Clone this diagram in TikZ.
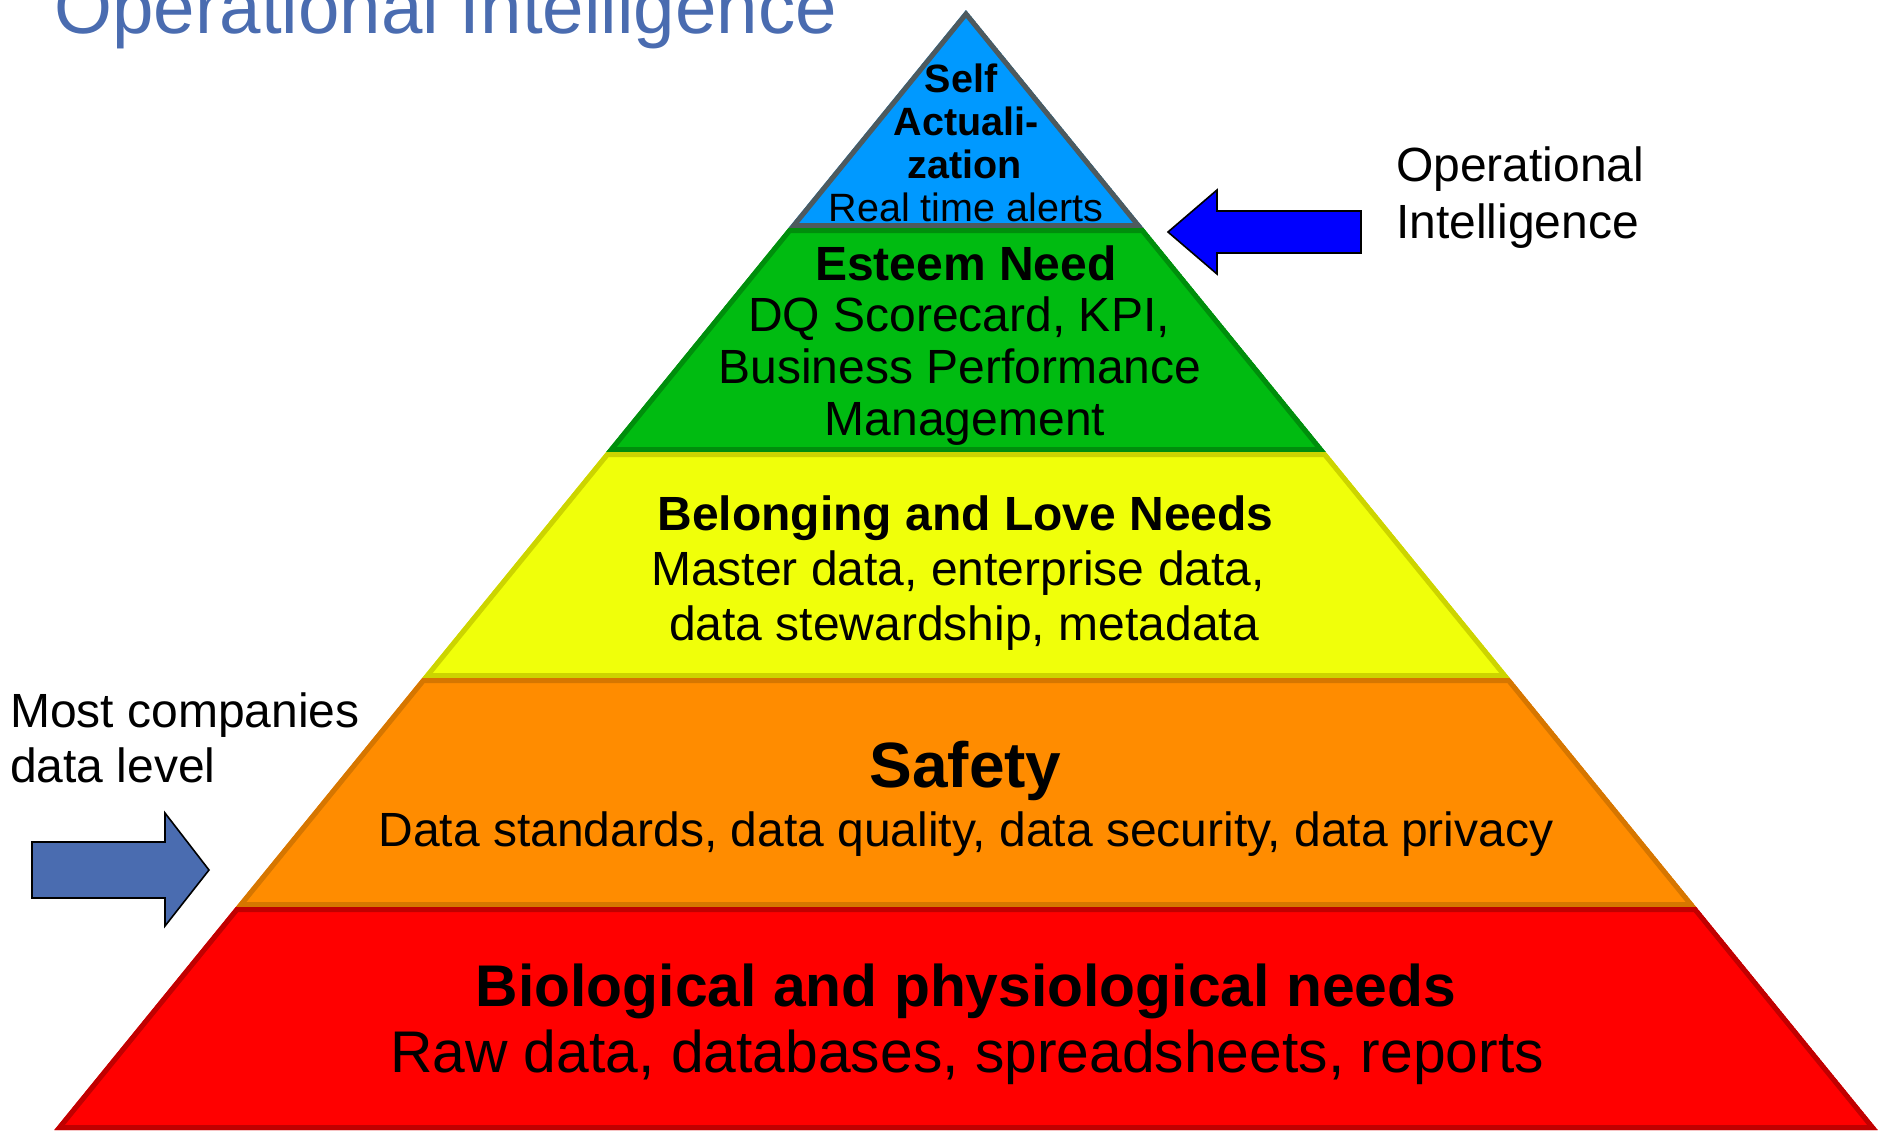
\documentclass[tikz,border=0pt]{standalone}
\usepackage{fontspec}
\setmainfont{Liberation Sans}
\definecolor{titleC}{RGB}{74,108,176}
\definecolor{blueF}{RGB}{0,153,255}
\definecolor{blueD}{RGB}{78,90,94}
\definecolor{greenF}{RGB}{0,187,17}
\definecolor{greenD}{RGB}{0,142,12}
\definecolor{yellowF}{RGB}{240,255,10}
\definecolor{yellowD}{RGB}{204,212,0}
\definecolor{orangeF}{RGB}{255,140,0}
\definecolor{orangeD}{RGB}{214,118,0}
\definecolor{redF}{RGB}{255,0,0}
\definecolor{redD}{RGB}{192,0,0}
\definecolor{arrowL}{RGB}{74,108,176}
\definecolor{arrowR}{RGB}{0,0,255}
\tikzset{
  bandline/.style={line width=10pt, line join=miter},
  txt/.style={anchor=base, inner sep=0pt, text=black},
  fBlue/.style={font=\fontsize{39.5}{43}\selectfont},
  fMid/.style={font=\fontsize{48}{55}\selectfont},
  fBig/.style={font=\fontsize{58.8}{66}\selectfont},
  fSafety/.style={font=\fontsize{64}{70}\selectfont\bfseries},
  arrowshape/.style={draw=black, line width=1.6pt, line join=miter},
}
\begin{document}
\begin{tikzpicture}[x=1pt,y=-1pt]
\useasboundingbox (0,0) rectangle (1879,1130);

% pyramid corners
\coordinate (A) at (966,10);
\coordinate (L1) at (788.5,228);  \coordinate (R1) at (1143.5,228);
\coordinate (L2) at (606.2,452);  \coordinate (R2) at (1325.8,452);
\coordinate (L3) at (422.2,678);  \coordinate (R3) at (1509.8,678);
\coordinate (L4) at (235.8,907);  \coordinate (R4) at (1696.2,907);
\coordinate (L5) at (54.3,1130);  \coordinate (R5) at (1877.7,1130);

\begin{scope}
  \clip (A) -- (R1) -- (L1) -- cycle;
  \draw[bandline, fill=blueF, draw=blueD] (A) -- (R1) -- (L1) -- cycle;
\end{scope}
\begin{scope}
  \clip (L1) -- (R1) -- (R2) -- (L2) -- cycle;
  \draw[bandline, fill=greenF, draw=greenD] (L1) -- (R1) -- (R2) -- (L2) -- cycle;
\end{scope}
\begin{scope}
  \clip (L2) -- (R2) -- (R3) -- (L3) -- cycle;
  \draw[bandline, fill=yellowF, draw=yellowD] (L2) -- (R2) -- (R3) -- (L3) -- cycle;
\end{scope}
\begin{scope}
  \clip (L3) -- (R3) -- (R4) -- (L4) -- cycle;
  \draw[bandline, fill=orangeF, draw=orangeD] (L3) -- (R3) -- (R4) -- (L4) -- cycle;
\end{scope}
\begin{scope}
  \clip (L4) -- (R4) -- (R5) -- (L5) -- cycle;
  \draw[bandline, fill=redF, draw=redD] (L4) -- (R4) -- (R5) -- (L5) -- cycle;
\end{scope}

% title (cut off at top, as in the original)
\node[anchor=base west, inner sep=0pt, text=titleC, font=\fontsize{74.5}{80}\selectfont] (title) at (54,33) {Operational Intelligence};

% blue band
\node[txt, fBlue] (s1) at (961,92) {\bfseries Self};
\node[txt, fBlue] (s2) at (966,135) {\bfseries Actuali-};
\node[txt, fBlue] (s3) at (965,178) {\bfseries zation};
\node[txt, fBlue] (s4) at (966,221.5) {Real time alerts};

% green band
\node[txt, fMid] (e1) at (966,280) {\bfseries Esteem Need};
\node[txt, fMid] (e2) at (959,331) {DQ Scorecard, KPI,};
\node[txt, fMid] (e3) at (960,383) {Business Performance};
\node[txt, fMid] (e4) at (965,435) {Management};

% yellow band
\node[txt, fMid] (y1) at (965.5,530) {\bfseries Belonging and Love Needs};
\node[txt, fMid] (y2) at (958,585) {Master data, enterprise data,};
\node[txt, fMid] (y3) at (964,640) {data stewardship, metadata};

% orange band
\node[txt, fSafety] (o1) at (965.5,787) {Safety};
\node[txt, fMid] (o2) at (966,846) {Data standards, data quality, data security, data privacy};

% red band
\node[txt, fBig] (r1) at (966,1006) {\bfseries Biological and physiological needs};
\node[txt, fBig] (r2) at (967,1072) {Raw data, databases, spreadsheets, reports};

% right label and arrow
\node[anchor=base west, inner sep=0pt, fMid] (op1) at (1396,181) {Operational};
\node[anchor=base west, inner sep=0pt, fMid] (op2) at (1396,238) {Intelligence};
\draw[arrowshape, fill=arrowR] (1168,232) -- (1217,190) -- (1217,211) -- (1361,211)
  -- (1361,253) -- (1217,253) -- (1217,274) -- cycle;

% left label and arrow
\node[anchor=base west, inner sep=0pt, fMid] (m1) at (10,727) {Most companies};
\node[anchor=base west, inner sep=0pt, fMid] (m2) at (10,782) {data level};
\draw[arrowshape, fill=arrowL] (32,842) -- (165,842) -- (165,813) -- (209,870)
  -- (165,926) -- (165,898) -- (32,898) -- cycle;
\end{tikzpicture}
\end{document}
